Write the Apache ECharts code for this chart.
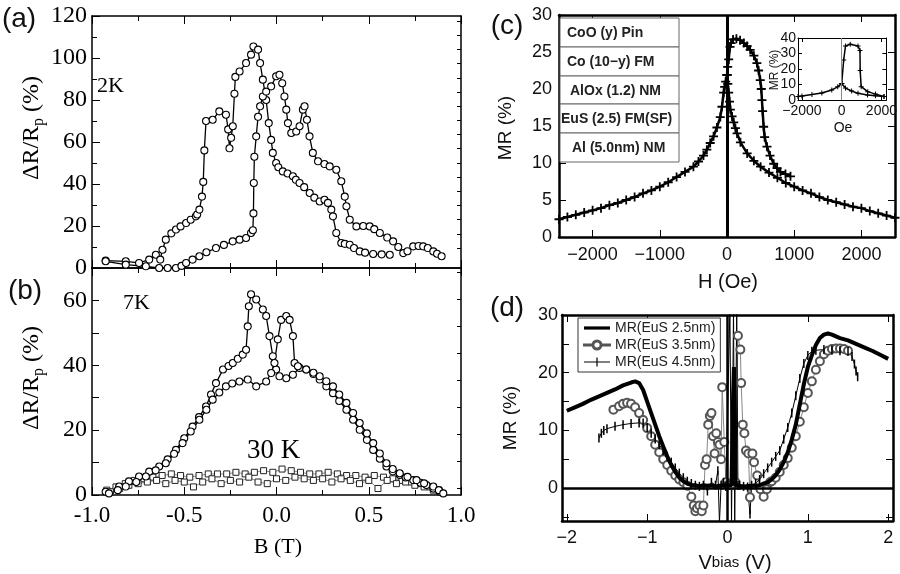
<!DOCTYPE html>
<html>
<head>
<meta charset="utf-8">
<script src="https://cdn.jsdelivr.net/npm/echarts@6.0.0/dist/echarts.min.js"></script>
<style>
html,body{margin:0;padding:0;background:#ffffff;}
#chart{width:900px;height:574px;}
</style>
</head>
<body>
<div id="chart"></div>
<script>
// ================= DATA =================
// (a) 2K : [B (T), dR/Rp (%)] two field sweeps
const a2K_sweepA = [[-0.926,3.5],[-0.817,3.2],[-0.745,2.4],[-0.69,4.0],[-0.654,6.3],[-0.63,4.0],[-0.618,8.7],[-0.6,13.5],[-0.57,16.5],[-0.545,18.3],[-0.52,19.8],[-0.49,21.4],[-0.465,23],[-0.437,24.6],[-0.43,25.5],[-0.418,27.8],[-0.404,34],[-0.397,41],[-0.391,56],[-0.382,70],[-0.346,70.6],[-0.31,74.6],[-0.274,73],[-0.262,66],[-0.255,57],[-0.246,62],[-0.237,67.5],[-0.228,83],[-0.223,91],[-0.2,93.6],[-0.165,97.6],[-0.138,101.6],[-0.125,105.5],[-0.10,104],[-0.089,97.6],[-0.074,89.7],[-0.056,80],[-0.042,69],[-0.029,61],[-0.02,54.8],[-0.002,50],[0.01,48],[0.034,46],[0.06,45],[0.089,43.7],[0.105,42],[0.125,40.5],[0.15,38.5],[0.18,35.7],[0.205,33.5],[0.234,31.7],[0.26,32.5],[0.279,31],[0.297,27.8],[0.306,24.6],[0.324,16.7],[0.351,11.9],[0.37,11.5],[0.397,11.1],[0.42,9.5],[0.451,7.9],[0.48,7.3],[0.524,6.7],[0.57,6.5],[0.614,6.3]];
const a2K_sweepB = [[-0.926,3.2],[-0.817,1.6],[-0.708,0.8],[-0.636,0],[-0.59,0],[-0.545,0],[-0.515,1],[-0.49,2.4],[-0.455,4],[-0.418,5.6],[-0.38,7.5],[-0.328,9.5],[-0.285,11],[-0.237,12.7],[-0.2,13.5],[-0.165,14.3],[-0.138,16.7],[-0.128,18],[-0.125,26],[-0.123,40.5],[-0.12,53],[-0.11,62.7],[-0.10,72],[-0.089,77],[-0.074,81.7],[-0.056,84],[-0.029,86.5],[-0.002,91.3],[0.016,92],[0.031,88],[0.043,81.7],[0.053,75.4],[0.062,69],[0.08,64.3],[0.107,65],[0.125,67.5],[0.143,75.4],[0.152,77],[0.165,70.6],[0.179,62.7],[0.197,54.8],[0.225,50.8],[0.26,49.5],[0.288,48.4],[0.324,46.8],[0.351,41.3],[0.37,34],[0.379,29.4],[0.397,23],[0.433,19.8],[0.47,20],[0.505,19.8],[0.53,18.5],[0.56,16.7],[0.6,14.5],[0.632,12.7],[0.66,10],[0.687,7.1],[0.71,8],[0.741,10.3],[0.77,10.5],[0.795,10.3],[0.82,9.5],[0.85,7.9],[0.87,6.8],[0.895,5.6]];
// (b) 7K
const b7K_sweepA = [[-0.926,1.0],[-0.853,2.6],[-0.8,4.2],[-0.745,5.7],[-0.69,7.2],[-0.636,8.8],[-0.59,11],[-0.545,13.9],[-0.5,17.5],[-0.455,21.1],[-0.42,24],[-0.382,27.3],[-0.355,31],[-0.328,34.5],[-0.29,38.7],[-0.26,39.8],[-0.237,40.7],[-0.21,42],[-0.183,43.3],[-0.165,44.8],[-0.156,52],[-0.15,58.2],[-0.138,61.9],[-0.11,60.3],[-0.074,57.2],[-0.056,55.2],[-0.038,49],[-0.02,42.8],[-0.002,38.7],[0.016,36.6],[0.053,36],[0.089,37.1],[0.125,39.2],[0.161,38.7],[0.2,37.3],[0.234,35.6],[0.27,33.5],[0.306,31.4],[0.34,29],[0.379,26.3],[0.415,23.2],[0.451,20.1],[0.49,17],[0.524,13.9],[0.56,11.2],[0.596,8.8],[0.63,7.3],[0.668,6.2],[0.7,5.4],[0.741,4.6],[0.78,3.8],[0.813,3.1],[0.85,2],[0.886,1.0]];
const b7K_sweepB = [[-0.908,0.5],[-0.86,1.5],[-0.817,2.6],[-0.76,4],[-0.708,5.7],[-0.655,7.6],[-0.6,9.8],[-0.555,12.7],[-0.509,16],[-0.465,19.6],[-0.418,23.2],[-0.38,26.3],[-0.346,29.4],[-0.31,31.6],[-0.274,33.5],[-0.24,34.4],[-0.201,35],[-0.156,35.6],[-0.11,33.5],[-0.056,35],[-0.029,37.6],[-0.011,40.7],[0.007,48],[0.025,54],[0.053,55.2],[0.071,54],[0.089,49],[0.098,40.7],[0.116,39.7],[0.161,38.7],[0.2,37.7],[0.234,36.6],[0.27,35.1],[0.306,33.5],[0.34,31],[0.379,28.4],[0.415,25.3],[0.451,22.2],[0.49,19],[0.524,16],[0.56,12.8],[0.596,9.8],[0.63,8],[0.668,6.7],[0.71,5.6],[0.759,4.6],[0.8,3.6],[0.85,2.6],[0.88,1.5],[0.904,0.5]];
// (b) 30K
const b30K_sweepA = [[-0.92,1.5],[-0.87,2.5],[-0.82,3.5],[-0.77,4.5],[-0.72,5],[-0.67,5.5],[-0.62,6],[-0.57,6.5],[-0.52,6],[-0.47,5.5],[-0.42,6],[-0.37,6.5],[-0.32,6.5],[-0.27,6.5],[-0.22,7],[-0.17,6.5],[-0.12,7],[-0.07,7.5],[-0.02,7],[0.03,8],[0.08,7.5],[0.13,7],[0.18,6.5],[0.23,6.5],[0.28,7],[0.33,6.5],[0.38,6],[0.43,6],[0.48,5.5],[0.53,6],[0.58,5.5],[0.63,5],[0.68,4.5],[0.73,4],[0.78,3.5],[0.83,2.5],[0.88,1.5]];
const b30K_sweepB = [[-0.9,1],[-0.85,2],[-0.8,3],[-0.75,3.5],[-0.7,4],[-0.65,4.5],[-0.6,3.5],[-0.55,4.5],[-0.5,4],[-0.45,2.5],[-0.4,4],[-0.35,5],[-0.3,3.5],[-0.25,4.5],[-0.2,4],[-0.15,5.5],[-0.1,4],[-0.05,3.5],[0,5],[0.05,4.5],[0.1,5.5],[0.15,5],[0.2,4.5],[0.25,5],[0.3,4],[0.35,5],[0.4,4.5],[0.45,3.5],[0.5,4.5],[0.55,2],[0.6,4.5],[0.65,3.5],[0.7,4],[0.75,3],[0.8,2.5],[0.85,1.5]];
// (c) MR (%) vs H (Oe)
const cLeft = [[-2500,2.4],[-2375,2.7],[-2250,3.0],[-2125,3.3],[-2000,3.6],[-1875,3.9],[-1750,4.3],[-1625,4.6],[-1500,5.0],[-1375,5.4],[-1250,5.9],[-1125,6.3],[-1000,6.8],[-875,7.4],[-750,8.1],[-625,8.8],[-500,9.5],[-425,10.2],[-350,11.0],[-300,11.8],[-250,12.7],[-200,13.6],[-150,14.8],[-100,16.2],[-75,17.6],[-50,19.5],[-35,20.3],[-20,21],[0,21.9]];
const cUpperRight = [[0,21.9],[10,23],[25,24],[45,25.7],[60,26.2],[90,26.7],[140,26.8],[195,26.6],[250,26.2],[300,25.8],[345,25.3],[400,24.5],[445,23.5],[470,22.5],[495,21.2],[510,20],[520,18.5],[530,17],[545,14.9],[560,13.5],[595,12.2],[640,11],[695,9.9],[745,9.3],[795,8.8],[870,8.5],[945,8.2]];
const cLowerRight = [[0,21.9],[12,20.7],[25,19.5],[37,18.3],[50,17.2],[75,16.3],[100,15.5],[125,14.7],[150,14.0],[200,12.8],[300,11.3],[400,10.3],[500,9.5],[625,8.7],[750,8.0],[875,7.3],[1000,6.8],[1125,6.3],[1250,5.9],[1375,5.4],[1500,5.0],[1625,4.7],[1750,4.4],[1875,4.1],[2000,3.9],[2125,3.5],[2250,3.2],[2375,2.9],[2500,2.6]];
const cLayers = ['CoO (y) Pin', 'Co (10\u2212y) FM', 'AlOx (1.2) NM', 'EuS (2.5) FM(SF)', 'Al (5.0nm) NM'];
// (c) inset
const insetLeft = [[-2200,2.2],[-2000,2.6],[-1500,3.5],[-1000,4.5],[-500,6.5],[-200,8.5],[0,10.7]];
const insetUpper = [[0,10.7],[100,25.8],[190,34.8],[430,36],[820,34.8],[920,32],[930,19],[980,8.6],[1310,5.4],[1700,3.8],[2130,2.2]];
const insetLower = [[0,10.7],[190,7.7],[500,5.8],[820,4.3],[1300,3.2],[1700,2.7],[2130,2.2]];
// (d) MR (%) vs Vbias (V)
const dNames = ['MR(EuS 2.5nm)', 'MR(EuS 3.5nm)', 'MR(EuS 4.5nm)'];
const d25 = [[-2.0,13.4],[-1.9,14.0],[-1.8,14.6],[-1.7,15.3],[-1.6,15.9],[-1.5,16.5],[-1.4,17.1],[-1.3,17.8],[-1.2,18.3],[-1.15,18.5],[-1.1,18.2],[-1.05,17.0],[-1.0,15.0],[-0.95,13.0],[-0.9,11.0],[-0.85,9.0],[-0.8,7.2],[-0.75,5.5],[-0.7,4.0],[-0.65,2.8],[-0.6,1.8],[-0.55,1.2],[-0.5,0.8],[-0.45,0.5],[-0.4,0.5],[-0.35,0.3],[-0.3,0.5],[-0.25,0.4],[-0.2,0.5],[-0.15,0.3],[-0.1,0.4],[-0.05,0.5],[0,0.5],[0.05,0.5],[0.07,16],[0.08,21],[0.09,15],[0.1,0.5],[0.2,0.3],[0.3,0.4],[0.4,0.5],[0.45,0.8],[0.5,1.0],[0.55,1.5],[0.6,2.2],[0.65,3.2],[0.7,4.5],[0.75,6.2],[0.8,8.4],[0.85,11.0],[0.9,14.5],[0.95,18.0],[1.0,21.0],[1.05,23.0],[1.1,24.8],[1.15,26.0],[1.2,26.6],[1.25,26.8],[1.3,26.6],[1.35,26.3],[1.4,26.0],[1.5,25.6],[1.6,25.0],[1.7,24.4],[1.8,23.8],[1.9,23.1],[2.0,22.4]];
const d35 = [[-1.42,13.6],[-1.35,14.2],[-1.3,14.6],[-1.25,14.8],[-1.2,14.6],[-1.15,14.0],[-1.1,13.0],[-1.05,11.8],[-1.0,10.4],[-0.95,9.0],[-0.9,7.5],[-0.85,6.2],[-0.8,5.0],[-0.75,4.0],[-0.7,3.0],[-0.65,2.2],[-0.6,1.5],[-0.55,1.0],[-0.5,0.4],[-0.45,-1.5],[-0.42,-3.0],[-0.4,-4.0],[-0.38,-3.5],[-0.35,-3.0],[-0.32,-4.0],[-0.3,-3.0],[-0.28,4.0],[-0.26,5.0],[-0.24,11.0],[-0.22,12.5],[-0.2,13.0],[-0.18,9.0],[-0.16,6.0],[-0.14,9.5],[-0.12,8.0],[-0.1,7.5],[-0.08,5.0],[-0.066,17.5],[-0.04,8.0],[-0.02,1.0],[0,0.5],[0.05,0.5],[0.1,1.0],[0.13,26.4],[0.16,24],[0.17,18.2],[0.19,11],[0.21,9.5],[0.23,6.5],[0.26,6],[0.28,-1.6],[0.31,6],[0.33,4.5],[0.37,2.2],[0.41,-0.2],[0.45,-1.5],[0.49,-0.2],[0.53,1.0],[0.55,1.2],[0.6,1.8],[0.65,2.8],[0.7,4.0],[0.75,5.2],[0.8,7.0],[0.85,9.0],[0.9,11.5],[0.95,14.0],[1.0,16.5],[1.05,18.5],[1.1,20.5],[1.15,22.0],[1.2,23.2],[1.25,23.8],[1.3,24.1],[1.35,24.2],[1.4,24.2],[1.45,24.1],[1.5,23.8]];
const d45 = [[-1.6,8.7],[-1.57,9.5],[-1.54,10.0],[-1.5,10.3],[-1.4,10.7],[-1.3,11.0],[-1.2,11.2],[-1.1,11.3],[-1.05,11.3],[-1.0,10.5],[-0.95,9.5],[-0.9,8.5],[-0.85,7.5],[-0.8,6.5],[-0.75,5.5],[-0.7,4.5],[-0.65,3.5],[-0.6,2.6],[-0.55,1.8],[-0.5,1.2],[-0.45,0.8],[-0.4,0.5],[-0.35,0.3],[-0.3,0.5],[-0.25,-0.5],[-0.2,1.0],[-0.15,0.5],[-0.12,3],[-0.1,-6],[-0.08,0.5],[-0.05,1],[-0.02,0.3],[0,0.5],[0.03,31],[0.05,-6],[0.075,31],[0.09,-6],[0.115,31],[0.13,0.5],[0.15,0.5],[0.2,0.3],[0.25,0.2],[0.28,-4.5],[0.3,0.5],[0.35,0.8],[0.4,1.5],[0.45,2.5],[0.5,3.5],[0.55,4.5],[0.6,5.5],[0.65,6.5],[0.7,8.5],[0.75,10.5],[0.8,13.0],[0.85,16.0],[0.9,19.0],[0.95,21.6],[1.0,23.0],[1.05,23.7],[1.1,23.9],[1.2,24.0],[1.3,23.9],[1.4,23.8],[1.5,23.7],[1.55,22.8],[1.58,21.5],[1.6,20.3],[1.62,19.3]];
// tick label values
const cTicksX = [-2000, -1000, 0, 1000, 2000];
const insetTicksX = [-2000, 0, 2000];
const dTicksX = [-2, -1, 0, 1, 2];
const dLabelsY = [0, 10, 20, 30];
const dTicksY = [-5, 0, 5, 10, 15, 20, 25, 30];
const bLabelsY = [0, 20, 40, 60];

// ================= STYLE =================
const SERIF = '"Liberation Serif", "Times New Roman", serif';
const SANS = '"Liberation Sans", Arial, sans-serif';
const MINUS = '\u2212';
const SYM_PLUS = 'path://M4,0H6V4H10V6H6V10H4V6H0V4H4Z';
const SYM_BAR = 'path://M0,0H2V10H0Z';
const ICON_THICK = 'path://M0,3.4H26V6.6H0Z';
const ICON_CIRCLE = 'path://M0,4.6H8.2V5.4H0Z M17.8,4.6H26V5.4H17.8Z M13,0.5A4.5,4.5 0 1,1 12.99,0.5Z M13,1.4A3.6,3.6 0 1,0 13.01,1.4Z';
const ICON_BAR = 'path://M0,4.6H26V5.4H0Z M12.4,0.5H13.6V9.5H12.4Z';
const fmtMinus = v => (v < 0 ? MINUS + Math.abs(v) : String(v));

function isObj(o){return o && typeof o === 'object' && !Array.isArray(o);}
function mix(a, b){
  const r = Object.assign({}, a);
  for (const k in b) r[k] = (isObj(a[k]) && isObj(b[k])) ? mix(a[k], b[k]) : b[k];
  return r;
}
function axis(gi, pos, lw, tlen, extra){
  return mix({
    gridIndex: gi, type: 'value', position: pos,
    axisLine: {show: true, onZero: false, lineStyle: {color: '#000', width: lw}},
    axisTick: {show: true, inside: true, length: tlen, lineStyle: {color: '#000', width: 1}},
    splitLine: {show: false},
    axisLabel: {show: false}
  }, extra || {});
}

const serifLbl = (size, margin) => ({show: true, fontFamily: SERIF, fontSize: size, color: '#000', margin: margin});
const sansLbl = (size, margin) => ({show: true, fontFamily: SANS, fontSize: size, color: '#111', margin: margin});
const minor = {show: true, splitNumber: 2, length: 5, lineStyle: {color: '#000'}};

const xAxes = [
  axis(0, 'bottom', 1.5, 8, {min: -1, max: 1, interval: 0.5, minorTick: minor}),
  axis(0, 'top', 1.5, 8, {min: -1, max: 1, interval: 0.5, minorTick: minor}),
  axis(1, 'bottom', 1.5, 8, {min: -1, max: 1, interval: 0.5, minorTick: minor,
    axisLabel: mix(serifLbl(23, 9), {formatter: v => v.toFixed(1)})}),
  axis(1, 'top', 1.5, 8, {min: -1, max: 1, interval: 0.5, minorTick: minor}),
  axis(2, 'bottom', 2.5, 7, {min: -2500, max: 2500, axisTick: {customValues: cTicksX},
    axisLabel: mix(sansLbl(18, 9), {customValues: cTicksX, formatter: fmtMinus})}),
  axis(2, 'top', 2.5, 7, {min: -2500, max: 2500, axisTick: {customValues: cTicksX}}),
  axis(3, 'bottom', 1, 4, {min: -2200, max: 2250, axisTick: {customValues: insetTicksX},
    axisLabel: mix(sansLbl(14, 4), {customValues: insetTicksX, formatter: fmtMinus})}),
  axis(3, 'top', 1, 4, {min: -2200, max: 2250, axisTick: {customValues: insetTicksX}}),
  axis(4, 'bottom', 2.5, 7, {min: -2.06, max: 2.06, axisTick: {customValues: dTicksX},
    axisLabel: mix(sansLbl(18, 8), {customValues: dTicksX, formatter: fmtMinus})}),
  axis(4, 'top', 2.5, 7, {min: -2.06, max: 2.06, axisTick: {customValues: dTicksX}})
];

const yAxes = [
  axis(0, 'left', 1.5, 8, {min: 0, max: 120, interval: 20, minorTick: minor, axisLabel: serifLbl(24, 5)}),
  axis(0, 'right', 1.5, 4, {min: 0, max: 120, interval: 20, axisTick: {customValues: [9.5,16.3,23,29.8,36.5,43.3,50,56.8,63.5,70.3,77,83.8,90.5,97.3,104,110.8,117.5]}}),
  axis(1, 'left', 1.5, 7, {min: 0, max: 70, interval: 10, axisLabel: mix(serifLbl(24, 5), {customValues: bLabelsY})}),
  axis(1, 'right', 1.5, 4, {min: 0, max: 70, interval: 10, axisTick: {customValues: [2.2,10.5,18.8,27.1,35.4,43.7,52,60.3,68.6]}}),
  axis(2, 'left', 2.5, 7, {min: 0, max: 30, interval: 5, axisLabel: sansLbl(18, 7)}),
  axis(2, 'right', 2.5, 7, {min: 0, max: 30, interval: 5}),
  axis(3, 'left', 1, 4, {min: 0, max: 40, interval: 10, axisLabel: sansLbl(14, 2)}),
  axis(3, 'right', 1, 4, {min: 0, max: 40, interval: 10}),
  axis(4, 'left', 2.5, 7, {min: -5.7, max: 30, axisTick: {customValues: dTicksY},
    axisLabel: mix(sansLbl(18, 4), {customValues: dLabelsY})}),
  axis(4, 'right', 2.5, 7, {min: -5.7, max: 30, axisTick: {customValues: dTicksY}})
];

const circleSeries = (xi, data) => ({
  type: 'line', xAxisIndex: xi, yAxisIndex: xi, data: data,
  symbol: 'circle', symbolSize: 7, showAllSymbol: true,
  itemStyle: {color: '#fff', borderColor: '#000', borderWidth: 1.1},
  lineStyle: {color: '#000', width: 1.3}, z: 3
});
const squareSeries = (data) => ({
  type: 'line', xAxisIndex: 2, yAxisIndex: 2, data: data,
  symbol: 'rect', symbolSize: 6, showAllSymbol: true,
  itemStyle: {color: '#fff', borderColor: '#222', borderWidth: 1},
  lineStyle: {color: '#444', width: 0.6}, z: 3
});
const plusSeries = (xi, data, size, lw, extra) => mix({
  type: 'line', xAxisIndex: xi, yAxisIndex: xi, data: data,
  symbol: SYM_PLUS, symbolSize: size, showAllSymbol: true,
  itemStyle: {color: '#000'}, lineStyle: {color: '#000', width: lw}, z: 3
}, extra || {});
const vline = (color, width) => ({
  silent: true, symbol: ['none', 'none'], label: {show: false},
  lineStyle: {color: color, width: width, type: 'solid'}, data: [{xAxis: 0}]
});

const series = [
  circleSeries(0, a2K_sweepA),
  circleSeries(0, a2K_sweepB),
  squareSeries(b30K_sweepA),
  squareSeries(b30K_sweepB),
  circleSeries(2, b7K_sweepA),
  circleSeries(2, b7K_sweepB),
  plusSeries(4, cLeft, 9, 2.5, {markLine: vline('#000', 3)}),
  plusSeries(4, cUpperRight, 9, 2.5),
  plusSeries(4, cLowerRight, 9, 2.5),
  plusSeries(6, insetLeft, 5, 1.5, {markLine: vline('#888', 1)}),
  plusSeries(6, insetUpper, 5, 1.5),
  plusSeries(6, insetLower, 5, 1.5),
  {
    name: dNames[0], type: 'line', xAxisIndex: 8, yAxisIndex: 8, data: d25,
    symbol: 'none', lineStyle: {color: '#000', width: 4}, itemStyle: {color: '#000'}, z: 4,
    markLine: {silent: true, symbol: ['none', 'none'], label: {show: false},
      lineStyle: {color: '#000', width: 2.5, type: 'solid'}, data: [{xAxis: 0}, {yAxis: 0}]}
  },
  {
    name: dNames[1], type: 'line', xAxisIndex: 8, yAxisIndex: 8, data: d35,
    symbol: 'emptyCircle', symbolSize: 8, showAllSymbol: true,
    itemStyle: {color: '#555', borderColor: '#555', borderWidth: 1},
    lineStyle: {color: '#888', width: 1}, z: 3
  },
  {
    name: dNames[2], type: 'line', xAxisIndex: 8, yAxisIndex: 8, data: d45,
    symbol: SYM_BAR, symbolSize: [1.5, 9], showAllSymbol: true,
    itemStyle: {color: '#000'}, lineStyle: {color: '#000', width: 1}, z: 3
  }
];

// ----- graphic texts -----
const T = (x, y, text, font, extra) => mix({
  type: 'text', x: x, y: y, silent: true,
  style: {text: text, font: font, fill: '#111', textAlign: 'center', textVerticalAlign: 'middle'}
}, extra || {});
const richRp = {m: {font: '24px ' + SERIF, fill: '#000', lineHeight: 30}, s: {font: '16px ' + SERIF, fill: '#000', lineHeight: 30, verticalAlign: 'bottom'}};
const graphics = [
  T(19, 19, '(a)', '28px ' + SANS),
  T(25, 291, '(b)', '28px ' + SANS),
  T(507, 26, '(c)', '28px ' + SANS),
  T(507, 308, '(d)', '28px ' + SANS),
  T(97, 86, '2K', '22px ' + SERIF, {style: {textAlign: 'left', fill: '#000'}}),
  T(123, 303, '7K', '22px ' + SERIF, {style: {textAlign: 'left', fill: '#000'}}),
  T(247, 451, '30 K', '27px ' + SERIF, {style: {textAlign: 'left', fill: '#000'}}),
  T(278, 547, 'B (T)', '22px ' + SERIF, {style: {fill: '#000'}}),
  T(728, 282, 'H (Oe)', '20px ' + SANS),
  T(843, 128, 'Oe', '14px ' + SANS),
  T(506, 128, 'MR (%)', '19px ' + SANS, {rotation: Math.PI / 2}),
  T(511, 418, 'MR (%)', '19px ' + SANS, {rotation: Math.PI / 2}),
  T(775, 70, 'MR (%)', '12px ' + SANS, {rotation: Math.PI / 2}),
  {type: 'text', x: 32, y: 128, rotation: Math.PI / 2, silent: true,
    style: {text: '{m|ΔR/R}{s|p}{m| (%)}', textAlign: 'center', textVerticalAlign: 'middle', rich: richRp}},
  {type: 'text', x: 32, y: 378, rotation: Math.PI / 2, silent: true,
    style: {text: '{m|ΔR/R}{s|p}{m| (%)}', textAlign: 'center', textVerticalAlign: 'middle', rich: richRp}},
  {type: 'text', x: 735, y: 563, silent: true,
    style: {text: '{v|V}{s|bias}{v| (V)}', textAlign: 'center', textVerticalAlign: 'middle',
      rich: {v: {font: '20px ' + SANS, fill: '#111'}, s: {font: '15px ' + SANS, fill: '#111'}}}}
];
// (c) layer table
const rowTops = [18, 47, 76, 104, 133, 162];
const rowTextLeft = [567, 567, 570, 561, 572];
cLayers.forEach((name, i) => {
  graphics.push({type: 'rect', silent: true, shape: {x: 560, y: rowTops[i], width: 119, height: rowTops[i + 1] - rowTops[i]},
    style: {fill: '#fff', stroke: '#666', lineWidth: 1}, z: 10});
  graphics.push(T(rowTextLeft[i], (rowTops[i] + rowTops[i + 1]) / 2 + 1, name, 'bold 14px ' + SANS,
    {z: 11, style: {textAlign: 'left', fill: '#222'}}));
});

const option = {
  animation: false,
  backgroundColor: '#ffffff',
  grid: [
    {left: 92, top: 16, width: 369, height: 252},
    {left: 92, top: 268, width: 369, height: 227},
    {left: 559, top: 15, width: 336, height: 222},
    {left: 798, top: 38, width: 92, height: 62},
    {left: 562, top: 315, width: 331, height: 206}
  ],
  xAxis: xAxes,
  yAxis: yAxes,
  legend: {
    show: true, orient: 'vertical', left: 578, top: 318,
    data: [{name: dNames[0], icon: ICON_THICK}, {name: dNames[1], icon: ICON_CIRCLE}, {name: dNames[2], icon: ICON_BAR}],
    itemWidth: 26, itemHeight: 10, itemGap: 3, padding: [3, 5, 3, 5],
    borderColor: '#333', borderWidth: 1, backgroundColor: '#fff', selectedMode: false,
    textStyle: {fontFamily: SANS, fontSize: 14, color: '#222'}
  },
  graphic: graphics,
  series: series
};

const chart = echarts.init(document.getElementById('chart'), null, {renderer: 'canvas', width: 900, height: 574});
chart.setOption(option);
</script>
</body>
</html>
